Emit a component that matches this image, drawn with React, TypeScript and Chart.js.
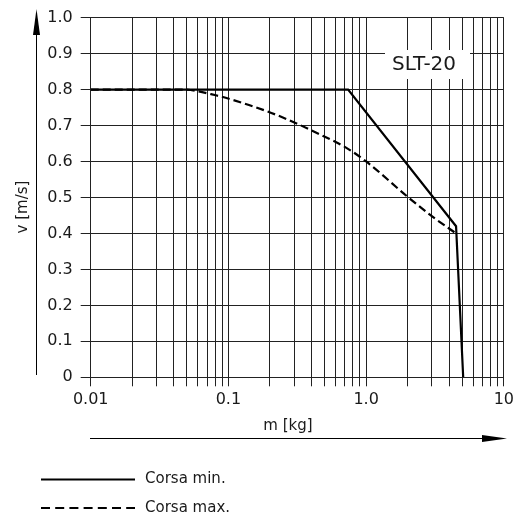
import React, { useEffect, useRef } from "react";
import { Chart, registerables } from "chart.js";

Chart.register(...registerables);

// ---- data ----
const seriesNames = ["Corsa min.", "Corsa max."];
const minStrokeMass = [0.01, 0.74, 4.5, 5.07];
const minStrokeSpeed = [0.8, 0.8, 0.42, 0.0];
const maxStrokeMass = [0.01, 0.046, 0.081, 0.141, 0.246, 0.506, 0.705, 1.0, 2.0, 3.0, 4.5];
const maxStrokeSpeed = [0.8, 0.8, 0.784, 0.757, 0.723, 0.668, 0.64, 0.6, 0.502, 0.448, 0.4];

const xMajorValues = [0.01, 0.1, 1, 10];
const xMajorLabels = ["0.01", "0.1", "1.0", "10"];
const xDecades = [0.01, 0.1, 1];
const xSubSteps = [1, 2, 3, 4, 5, 6, 7, 8, 9];
const yTickValues = [0, 0.1, 0.2, 0.3, 0.4, 0.5, 0.6, 0.7, 0.8, 0.9, 1.0];
const yTickLabels = ["0", "0.1", "0.2", "0.3", "0.4", "0.5", "0.6", "0.7", "0.8", "0.9", "1.0"];

const xTitle = "m [kg]";
const yTitle = "v [m/s]";
const modelLabel = "SLT-20";

const FONT = "'DejaVu Sans', sans-serif";
const INK = "#1a1a1a";
const GRID = "#222";

const xGridValues: number[] = [];
xDecades.forEach((d) => xSubSteps.forEach((k) => xGridValues.push(+(k * d).toPrecision(3))));
xGridValues.push(10);

const decorPlugin = {
  id: "decor",
  beforeDatasetsDraw(chart: any) {
    const ctx = chart.ctx;
    ctx.save();
    ctx.fillStyle = "#fff";
    ctx.fillRect(385, 50, 85, 29);
    ctx.fillStyle = INK;
    ctx.font = `20px ${FONT}`;
    ctx.textAlign = "center";
    ctx.textBaseline = "middle";
    ctx.fillText(modelLabel, 424, 65);
    ctx.restore();
  },
  afterDraw(chart: any) {
    const ctx = chart.ctx;
    ctx.save();
    ctx.strokeStyle = "#000";
    ctx.fillStyle = "#000";
    ctx.lineWidth = 1;
    // y arrow
    ctx.beginPath();
    ctx.moveTo(36.5, 375);
    ctx.lineTo(36.5, 30);
    ctx.stroke();
    ctx.beginPath();
    ctx.moveTo(36.5, 9);
    ctx.lineTo(40, 35);
    ctx.lineTo(33, 35);
    ctx.closePath();
    ctx.fill();
    // x arrow
    ctx.beginPath();
    ctx.moveTo(90, 438.5);
    ctx.lineTo(490, 438.5);
    ctx.stroke();
    ctx.beginPath();
    ctx.moveTo(507, 438.5);
    ctx.lineTo(482, 435);
    ctx.lineTo(482, 442);
    ctx.closePath();
    ctx.fill();

    // titles
    ctx.fillStyle = INK;
    ctx.font = `15px ${FONT}`;
    ctx.textAlign = "center";
    ctx.textBaseline = "middle";
    ctx.fillText(xTitle, 288, 426);
    ctx.save();
    ctx.translate(23, 207);
    ctx.rotate(-Math.PI / 2);
    ctx.fillText(yTitle, 0, 0);
    ctx.restore();

    // legend
    const ys = [479.5, 508];
    chart.data.datasets.forEach((ds: any, i: number) => {
      ctx.save();
      ctx.strokeStyle = "#000";
      ctx.lineWidth = 2;
      ctx.setLineDash(i === 0 ? [] : [9, 5.2]);
      ctx.beginPath();
      ctx.moveTo(41, ys[i]);
      ctx.lineTo(135, ys[i]);
      ctx.stroke();
      ctx.restore();
      ctx.fillStyle = INK;
      ctx.font = `15px ${FONT}`;
      ctx.textAlign = "left";
      ctx.textBaseline = "middle";
      ctx.fillText(ds.label, 145, ys[i]);
    });
    ctx.restore();
  },
};

export default function App() {
  const ref = useRef<HTMLCanvasElement | null>(null);

  useEffect(() => {
    document.body.style.margin = "0";
    const canvas = ref.current;
    if (!canvas) return;
    const chart = new Chart(canvas, {
      type: "line",
      data: {
        datasets: [
          {
            label: seriesNames[0],
            data: minStrokeMass.map((m, i) => ({ x: m, y: minStrokeSpeed[i] })),
            borderColor: "#000",
            borderWidth: 2.2,
            pointRadius: 0,
            tension: 0,
            fill: false,
          },
          {
            label: seriesNames[1],
            data: maxStrokeMass.map((m, i) => ({ x: m, y: maxStrokeSpeed[i] })),
            borderColor: "#000",
            borderWidth: 2.2,
            borderDash: [8, 4],
            pointRadius: 0,
            cubicInterpolationMode: "monotone",
            fill: false,
          },
        ],
      },
      options: {
        responsive: false,
        animation: false,
        events: [],
        layout: { padding: { top: 11, right: 11.7, left: 0, bottom: 0 } },
        plugins: {
          legend: { display: false },
          tooltip: { enabled: false },
          title: { display: false },
        },
        scales: {
          x: {
            type: "logarithmic",
            min: 0.01,
            max: 10,
            position: "bottom",
            border: { display: false },
            grid: { color: GRID, lineWidth: 1, tickLength: 9, drawTicks: true },
            afterBuildTicks: (scale: any) => {
              scale.ticks = xGridValues.map((v) => ({ value: v }));
            },
            afterFit: (scale: any) => {
              scale.height = 141.7;
            },
            ticks: {
              autoSkip: false,
              maxRotation: 0,
              minRotation: 0,
              padding: 4,
              color: INK,
              font: { family: FONT, size: 16 },
              callback: (value: any) => {
                const idx = xMajorValues.findIndex((v) => Math.abs(v - Number(value)) < 1e-9);
                return idx >= 0 ? xMajorLabels[idx] : "";
              },
            },
          },
          y: {
            type: "linear",
            min: 0,
            max: 1,
            border: { display: false },
            grid: { color: GRID, lineWidth: 1, tickLength: 10, drawTicks: true },
            afterBuildTicks: (scale: any) => {
              scale.ticks = yTickValues.map((v) => ({ value: v }));
            },
            afterFit: (scale: any) => {
              scale.width = 90.7;
            },
            ticks: {
              padding: 8,
              color: INK,
              font: { family: FONT, size: 16 },
              callback: (value: any) => {
                const idx = yTickValues.findIndex((v) => Math.abs(v - Number(value)) < 1e-9);
                return idx >= 0 ? yTickLabels[idx] : "";
              },
            },
          },
        },
      },
      plugins: [decorPlugin],
    } as any);
    return () => chart.destroy();
  }, []);

  return (
    <div style={{ width: 518, height: 519 }}>
      <canvas ref={ref} width={518} height={519} style={{ display: "block" }} />
    </div>
  );
}
